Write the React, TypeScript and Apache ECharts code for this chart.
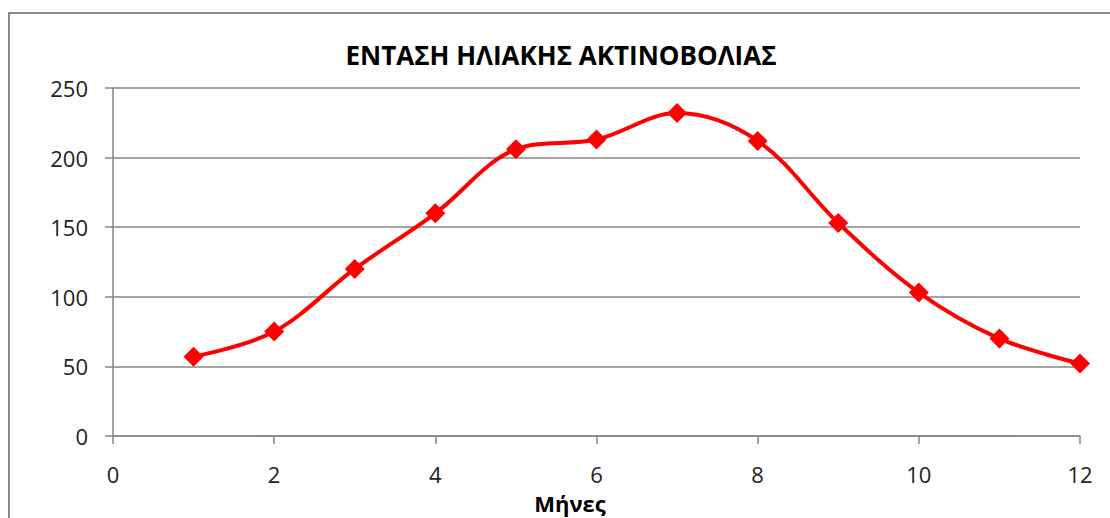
import React, { useEffect, useRef } from "react";
import * as echarts from "echarts";

const titleText = "ΕΝΤΑΣΗ ΗΛΙΑΚΗΣ ΑΚΤΙΝΟΒΟΛΙΑΣ";
const xAxisName = "Μήνες";
const months = [1, 2, 3, 4, 5, 6, 7, 8, 9, 10, 11, 12];
const radiation = [57, 75, 120, 160, 206, 213, 232, 212, 153, 103, 70, 52];

const FONT = "'Open Sans', 'Noto Sans', sans-serif";

export default function App() {
  const ref = useRef<HTMLDivElement>(null);
  useEffect(() => {
    if (!ref.current) return;
    const chart = echarts.init(ref.current, undefined, { renderer: "svg" });
    chart.setOption({
      animation: false,
      backgroundColor: "#ffffff",
      textStyle: { fontFamily: FONT },
      grid: { left: 113, right: 30, top: 88, bottom: 82, containLabel: false },
      graphic: [
        {
          type: "rect",
          shape: { x: 9, y: 13, width: 1200, height: 600 },
          style: { fill: "none", stroke: "#888888", lineWidth: 2 },
          silent: true,
        },
        {
          type: "text",
          x: 561,
          y: 55,
          style: {
            text: titleText,
            fill: "#000000",
            font: `bold 26px ${FONT}`,
            textAlign: "center",
            textVerticalAlign: "middle",
          },
        },
        {
          type: "text",
          x: 570,
          y: 503,
          style: {
            text: xAxisName,
            fill: "#000000",
            font: `bold 22px ${FONT}`,
            lineHeight: 22,
            textAlign: "center",
            textVerticalAlign: "middle",
          },
        },
      ],
      xAxis: {
        type: "value",
        min: 0,
        max: 12,
        interval: 2,
        axisLine: { show: true, lineStyle: { color: "#868686", width: 1.5 } },
        axisTick: { show: true, inside: false, length: 8, lineStyle: { color: "#868686", width: 1.5 } },
        axisLabel: { color: "#222", fontSize: 22, lineHeight: 22, margin: 27, fontFamily: FONT },
        splitLine: { show: false },
      },
      yAxis: {
        type: "value",
        min: 0,
        max: 250,
        interval: 50,
        axisLine: { show: true, lineStyle: { color: "#868686", width: 1.5 } },
        axisTick: { show: true, inside: false, length: 8, lineStyle: { color: "#868686", width: 1.5 } },
        axisLabel: { color: "#222", fontSize: 22, lineHeight: 22, margin: 25, fontFamily: FONT },
        splitLine: { show: true, lineStyle: { color: "#868686", width: 1.5 } },
      },
      series: [
        {
          type: "line",
          data: months.map((m, i) => [m, radiation[i]]),
          smooth: 0.35,
          symbol: "diamond",
          symbolSize: 20,
          lineStyle: { color: "#ff0000", width: 4 },
          itemStyle: { color: "#ff0000" },
        },
      ],
    });
    return () => chart.dispose();
  }, []);
  return (
    <div
      ref={ref}
      style={{ position: "fixed", left: 0, top: 0, width: 1110, height: 518 }}
    />
  );
}
